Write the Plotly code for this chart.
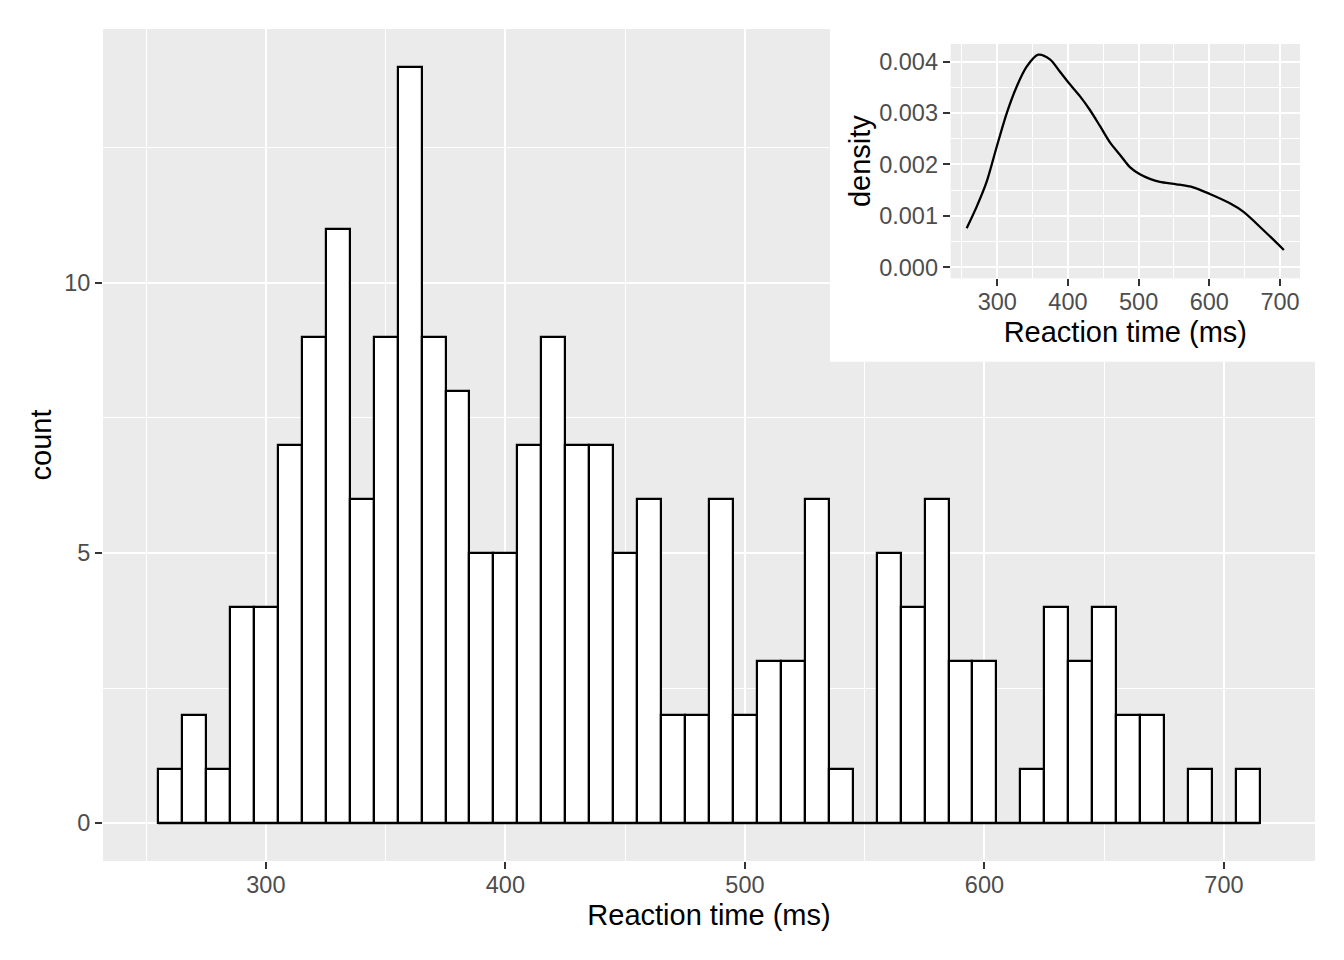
import plotly.graph_objects as go

# ---------------- data ----------------
# histogram bins (binwidth 10 ms), centers in ms
bin_centers = [260, 270, 280, 290, 300, 310, 320, 330, 340, 350, 360, 370, 380, 390,
               400, 410, 420, 430, 440, 450, 460, 470, 480, 490, 500, 510, 520, 530,
               540, 550, 560, 570, 580, 590, 600, 610, 620, 630, 640, 650, 660, 670,
               680, 690, 700, 710]
bin_width = 10
counts = [1, 2, 1, 4, 4, 7, 9, 11, 6, 9, 14, 9, 8, 5,
          5, 7, 9, 7, 7, 5, 6, 2, 2, 6, 2, 3, 3, 6,
          1, 0, 5, 4, 6, 3, 3, 0, 1, 4, 3, 4, 2, 2,
          0, 1, 0, 1]

# density estimate
dens_x = [256.7, 270.9, 285.0, 299.2, 313.3, 327.4, 341.6, 358.0, 374.5, 388.7,
          402.8, 416.9, 431.1, 445.2, 459.4, 473.5, 487.6, 501.8, 515.9, 530.0,
          553.7, 577.2, 600.8, 629.1, 648.0, 676.3, 705.5]
dens_y = [0.000759, 0.00118, 0.001665, 0.002346, 0.002996, 0.003514, 0.003903, 0.004135,
          0.004045, 0.003805, 0.00356, 0.00333, 0.00306, 0.00275, 0.00243, 0.00219,
          0.00195, 0.00181, 0.00172, 0.00166, 0.001615, 0.001556, 0.001426, 0.001245,
          0.001082, 0.000726, 0.000337]

x_ticks = [300, 400, 500, 600, 700]
y_ticks_main = [0, 5, 10]
y_ticks_inset = [0.000, 0.001, 0.002, 0.003, 0.004]

# ---------------- style ----------------
FONT = "Liberation Sans, Arial, Helvetica, sans-serif"
PANEL = "#EBEBEB"
TICKCOL = "#4D4D4D"

fig = go.Figure()

# main histogram
fig.add_trace(go.Bar(
    x=bin_centers, y=counts, width=bin_width,
    marker=dict(color="white", line=dict(color="black", width=2.2)),
    xaxis="x", yaxis="y", hoverinfo="x+y", showlegend=False,
))
# baseline across all bins (zero-count bins show as flat line)
lo = bin_centers[0] - bin_width / 2
hi = bin_centers[-1] + bin_width / 2
fig.add_trace(go.Scatter(
    x=[lo, hi], y=[0, 0], mode="lines", line=dict(color="black", width=2.2),
    xaxis="x", yaxis="y", hoverinfo="skip", showlegend=False,
))

# white backdrop for inset
fig.add_trace(go.Scatter(
    x=[-1, 2, 2, -1, -1], y=[-1, -1, 2, 2, -1], mode="lines", fill="toself",
    fillcolor="white", line=dict(width=0, color="white"),
    xaxis="x2", yaxis="y2", hoverinfo="skip", showlegend=False,
))

# inset density
fig.add_trace(go.Scatter(
    x=dens_x, y=dens_y, mode="lines",
    line=dict(color="black", width=2.3, shape="spline", smoothing=0.8),
    xaxis="x3", yaxis="y3", showlegend=False,
))

def axis_common(**kw):
    d = dict(
        showgrid=True, gridcolor="white", gridwidth=2.2,
        zeroline=False, showline=False,
        ticks="outside", ticklen=7, tickwidth=2, tickcolor="#333333",
        tickfont=dict(family=FONT, size=23.5, color=TICKCOL),
        title_font=dict(family=FONT, size=29, color="black"),
        fixedrange=True,
    )
    d.update(kw)
    return d

# page has an 8px body margin; figure is shrunk so panel lands at target pixels
OFF = 8
W, H = 1344 - OFF, 960 - OFF
ml, mr, mt, mb = 103 - OFF, 29, 29 - OFF, 99
pw, ph = W - ml - mr, H - mt - mb

def px2dx(px):
    return (px - OFF - ml) / pw

def px2dy(py):
    return (OFF + H - mb - py) / ph

fig.update_layout(
    width=W, height=H,
    margin=dict(l=ml, r=mr, t=mt, b=mb, pad=0),
    paper_bgcolor="white", plot_bgcolor=PANEL,
    font=dict(family=FONT),
    bargap=0,
    xaxis=axis_common(
        domain=[0, 1], range=[232, 738], tickvals=x_ticks, anchor="y",
        ticklabelstandoff=-4,
        minor=dict(dtick=50, tick0=0, showgrid=True, gridcolor="white", gridwidth=1.1),
        title=dict(text="Reaction time (ms)", standoff=7),
    ),
    yaxis=axis_common(
        domain=[0, 1], range=[-0.7, 14.7], tickvals=y_ticks_main, anchor="x",
        minor=dict(dtick=2.5, tick0=0, showgrid=True, gridcolor="white", gridwidth=1.1),
        title=dict(text="count", standoff=4),
    ),
    xaxis2=dict(domain=[max(0, px2dx(830)), 1.0], range=[0, 1], visible=False, anchor="y2", fixedrange=True),
    yaxis2=dict(domain=[px2dy(361.7), 1.0], range=[0, 1], visible=False, anchor="x2", fixedrange=True),
    xaxis3=axis_common(
        domain=[px2dx(950.7), px2dx(1300)], range=[234.1, 728.3], tickvals=x_ticks, anchor="y3",
        ticklabelstandoff=-5,
        minor=dict(dtick=50, tick0=0, showgrid=True, gridcolor="white", gridwidth=1.1),
        title=dict(text="Reaction time (ms)", standoff=8),
    ),
    yaxis3=axis_common(
        domain=[px2dy(278.3), px2dy(44)], range=[-0.000214, 0.004344], tickvals=y_ticks_inset,
        tickformat=".3f", anchor="x3",
        minor=dict(dtick=0.0005, tick0=0, showgrid=True, gridcolor="white", gridwidth=1.1),
        title=dict(text="density", standoff=0),
    ),
)

fig.write_html("out.html")
